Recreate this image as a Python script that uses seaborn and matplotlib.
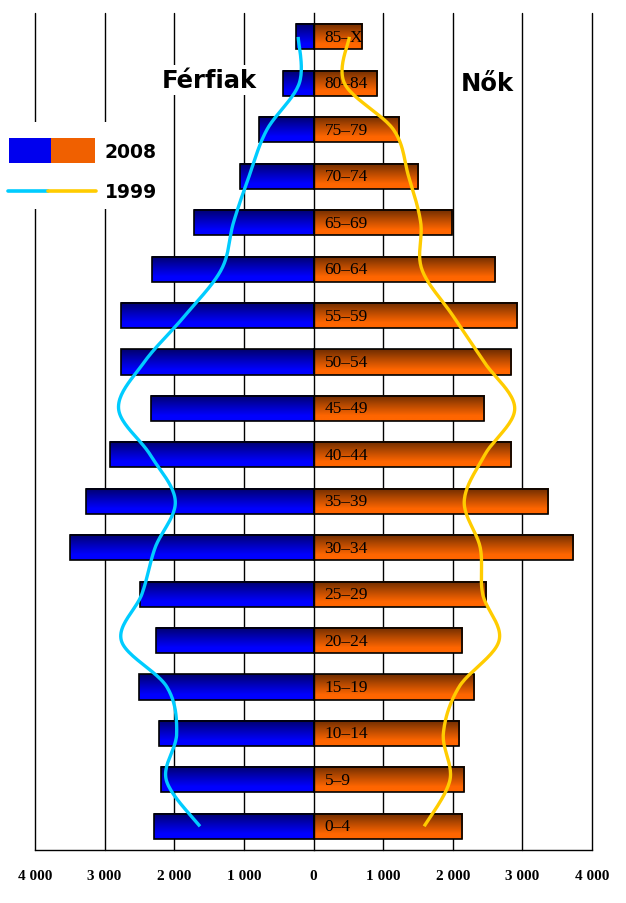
import numpy as np
import pandas as pd
import matplotlib
matplotlib.use("Agg")
import matplotlib.pyplot as plt
import seaborn as sns
from matplotlib.colors import LinearSegmentedColormap
from matplotlib.patches import Rectangle
from matplotlib.lines import Line2D

ages = ["85–X", "80–84", "75–79", "70–74", "65–69", "60–64", "55–59", "50–54", "45–49",
        "40–44", "35–39", "30–34", "25–29", "20–24", "15–19", "10–14", "5–9", "0–4"]
men_2008 = [250, 435, 780, 1050, 1710, 2315, 2765, 2765, 2330, 2920, 3265, 3495,
            2485, 2255, 2500, 2215, 2185, 2285]
women_2008 = [690, 905, 1235, 1495, 1985, 2600, 2925, 2840, 2455, 2840, 3370, 3730,
              2475, 2135, 2305, 2095, 2165, 2135]
men_1999 = [220, 205, 670, 925, 1150, 1320, 1845, 2430, 2800, 2345, 1985, 2275,
            2465, 2760, 2105, 1965, 2115, 1630]
women_1999 = [515, 445, 1150, 1365, 1540, 1555, 2000, 2450, 2890, 2460, 2165, 2395,
              2430, 2665, 2090, 1865, 1960, 1590]
xticks = [-4000, -3000, -2000, -1000, 0, 1000, 2000, 3000, 4000]
xtick_labels = ["4 000", "3 000", "2 000", "1 000", "0", "1 000", "2 000", "3 000", "4 000"]

W, H = 626, 904
sns.set_style("white")
plt.rcParams['font.family'] = ['DejaVu Sans']
plt.rcParams['text.color'] = 'black'
plt.rcParams['xtick.color'] = 'black'
plt.rcParams['ytick.color'] = 'black'
fig = plt.figure(figsize=(W / 100, H / 100), dpi=100)
ax = fig.add_axes([35 / W, (H - 851) / H, 557 / W, 837 / H])

df = pd.DataFrame({"age": ages, "men": [-v for v in men_2008], "women": women_2008})
sns.barplot(data=df, x="men", y="age", orient="h", color="#0000EE", width=0.54,
            ax=ax, edgecolor="black", linewidth=1.2, zorder=2)
sns.barplot(data=df, x="women", y="age", orient="h", color="#F06000", width=0.54,
            ax=ax, edgecolor="black", linewidth=1.2, zorder=2)

def grad_cmap(dark, mid, bright):
    return LinearSegmentedColormap.from_list("g", [(0, dark), (0.4, mid), (0.8, bright), (1, bright)])

cm_blue = grad_cmap("#00006C", "#0000B8", "#0000FF")
cm_orange = grad_cmap("#6E2C00", "#B84A00", "#FF6600")
grad = np.linspace(0, 1, 64)[:, None]
for p in list(ax.patches):
    x0, y0, w, h = p.get_x(), p.get_y(), p.get_width(), p.get_height()
    cm = cm_blue if w < 0 else cm_orange
    l, r = min(x0, x0 + w), max(x0, x0 + w)
    ax.imshow(grad, extent=(l, r, y0 + h, y0), origin="upper", aspect="auto",
              cmap=cm, zorder=2.1, interpolation="bilinear")
    p.set_facecolor("none")
    p.set_zorder(2.2)

def smooth(xs, ys, n=24):
    P = np.column_stack([xs, ys]).astype(float)
    out = []
    for i in range(len(P) - 1):
        p0 = P[i - 1] if i > 0 else P[i]
        p1, p2 = P[i], P[i + 1]
        p3 = P[i + 2] if i + 2 < len(P) else P[i + 1]
        c1 = p1 + (p2 - p0) / 6
        c2 = p2 - (p3 - p1) / 6
        t = np.linspace(0, 1, n, endpoint=False)[:, None]
        out.append((1 - t) ** 3 * p1 + 3 * (1 - t) ** 2 * t * c1 + 3 * (1 - t) * t ** 2 * c2 + t ** 3 * p2)
    out.append(P[-1:])
    return np.vstack(out)

ypos = np.arange(len(ages))
sm_m = smooth([-v for v in men_1999], ypos)
sm_w = smooth(women_1999, ypos)
ax.plot(sm_m[:, 0], sm_m[:, 1], color="#00CCFF", lw=2.4, zorder=4, solid_capstyle="butt")
ax.plot(sm_w[:, 0], sm_w[:, 1], color="#FFCC00", lw=2.4, zorder=4, solid_capstyle="butt")

for i, a in enumerate(ages):
    ax.annotate(a, xy=(0, i), xytext=(8, 0), textcoords="offset points",
                ha="left", va="center", fontsize=12.5, family="Liberation Serif",
                color="black", zorder=3)

ax.set_xlim(-4000, 4000)
ax.set_ylim(17.51, -0.515)
ax.set_xticks(xticks)
ax.set_xticklabels(xtick_labels, family="Liberation Serif", fontweight="bold", fontsize=11,
                   color="black")
ax.set_yticks(np.arange(len(ages) - 1) + 0.5)
ax.set_yticklabels([])
ax.set_xlabel("")
ax.set_ylabel("")
ax.grid(False)
for xv in xticks:
    if xv != 0:
        ax.axvline(xv, color="black", lw=1.0, zorder=0.5, clip_on=False)
for s in ["top", "right"]:
    ax.spines[s].set_visible(False)
ax.spines["left"].set_position(("data", 0))
ax.spines["left"].set_color("black")
ax.spines["left"].set_linewidth(1.0)
ax.spines["left"].set_zorder(2.3)
ax.spines["bottom"].set_color("black")
ax.spines["bottom"].set_linewidth(1.0)
ax.tick_params(axis="y", direction="in", length=4.5, width=1.0, color="black")
ax.tick_params(axis="x", direction="out", length=4.5, width=1.0, color="black", pad=9)

# titles
ax.text(174 / 557, 1 - (81 - 14) / 837, "Férfiak", transform=ax.transAxes, ha="center", va="center",
        fontsize=17.5, fontweight="bold", zorder=6, color="black",
        bbox=dict(facecolor="white", edgecolor="none", pad=2))
ax.text((487 - 35) / 557, 1 - (84 - 14) / 837, "Nők", transform=ax.transAxes, ha="center", va="center",
        fontsize=17.5, fontweight="bold", zorder=6, color="black",
        bbox=dict(facecolor="white", edgecolor="none", pad=2))

# legend
def fx(px): return px / W
def fy(py): return 1 - py / H
fig.add_artist(Rectangle((fx(0), fy(210)), fx(160), 87 / H, facecolor="white", edgecolor="none", zorder=5))
fig.add_artist(Rectangle((fx(9), fy(164)), 42 / W, 25 / H, facecolor="#0000EE", edgecolor="none", zorder=6))
fig.add_artist(Rectangle((fx(51), fy(164)), 44 / W, 25 / H, facecolor="#F06000", edgecolor="none", zorder=6))
fig.add_artist(Line2D([fx(8), fx(48)], [fy(192), fy(192)], color="#00CCFF", lw=2.6, zorder=6))
fig.add_artist(Line2D([fx(48), fx(96)], [fy(192), fy(192)], color="#FFCC00", lw=2.6, zorder=6))
fig.text(fx(104), fy(152), "2008", ha="left", va="center", fontsize=13.5, fontweight="bold",
         zorder=7, color="black")
fig.text(fx(105), fy(193), "1999", ha="left", va="center", fontsize=13.5, fontweight="bold",
         zorder=7, color="black")

fig.savefig("out.png", dpi=100, facecolor="white")
